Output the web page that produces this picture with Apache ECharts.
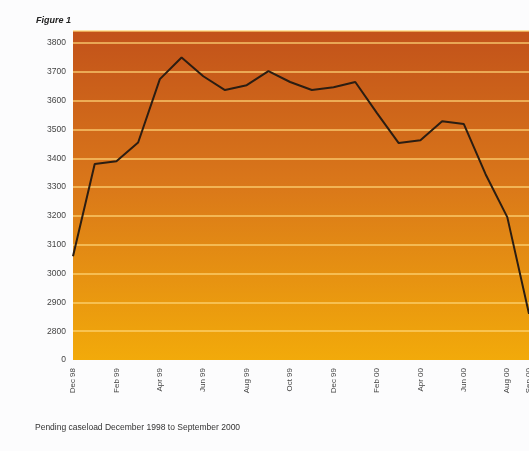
<!DOCTYPE html>
<html>
<head>
<meta charset="utf-8">
<script src="https://cdn.jsdelivr.net/npm/echarts@6/dist/echarts.min.js"></script>
<style>
  html, body { margin: 0; padding: 0; background: #fcfcfd; }
  #caseload-chart { width: 529px; height: 451px; }
</style>
</head>
<body>
<div id="caseload-chart"></div>
<script>
// months, Dec 98 to Sep 00
var months = ['Dec 98', 'Jan 99', 'Feb 99', 'Mar 99', 'Apr 99', 'May 99', 'Jun 99', 'Jul 99',
    'Aug 99', 'Sep 99', 'Oct 99', 'Nov 99', 'Dec 99', 'Jan 00', 'Feb 00', 'Mar 00',
    'Apr 00', 'May 00', 'Jun 00', 'Jul 00', 'Aug 00', 'Sep 00'];
// pending caseload
var pending = [3060, 3380, 3390, 3455, 3675, 3750, 3685, 3637, 3654, 3703, 3665,
    3637, 3647, 3665, 3557, 3453, 3463, 3529, 3519, 3345, 3196, 2860];
// bottom of the broken axis is labelled 0
var axisBreakValue = 2700;

var gridColors = ['rgba(0,0,0,0)'];
for (var i = 0; i < 12; i++) {
    gridColors.push('rgba(255,214,120,0.85)');
}

var caseloadDiv = document.getElementById('caseload-chart');
var caseloadChart = echarts.init(caseloadDiv);

var caseloadOption = {
    animation: false,
    title: [{
        text: 'Figure 1',
        left: 31,
        top: 11,
        textStyle: { fontSize: 9, fontWeight: 'bold', fontStyle: 'italic', color: '#222', fontFamily: 'Liberation Sans' }
    }, {
        text: 'Pending caseload December 1998 to September 2000',
        left: 30,
        top: 418,
        textStyle: { fontSize: 8.5, fontWeight: 'normal', color: '#333', fontFamily: 'Liberation Sans' }
    }],
    grid: {
        left: 73,
        right: 0,
        top: 31,
        bottom: 91,
        outerBoundsMode: 'none',
        show: true,
        borderWidth: 0,
        backgroundColor: new echarts.graphic.LinearGradient(0, 0, 0, 1, [
            { offset: 0, color: '#c2521a' },
            { offset: 0.45, color: '#d9761a' },
            { offset: 1, color: '#f2aa0a' }
        ])
    },
    xAxis: {
        type: 'category',
        boundaryGap: false,
        data: months,
        axisLine: { show: false },
        axisTick: { show: false },
        axisLabel: {
            rotate: 90,
            margin: 8,
            fontSize: 8,
            color: '#444',
            fontFamily: 'Liberation Sans',
            interval: function(idx) {
                return idx % 2 === 0 || idx === months.length - 1;
            }
        },
        splitLine: { show: false }
    },
    yAxis: {
        type: 'value',
        min: axisBreakValue,
        max: 3842,
        interval: 100,
        axisLine: { show: false },
        axisTick: { show: false },
        axisLabel: {
            showMaxLabel: false,
            margin: 7,
            fontSize: 8.5,
            color: '#444',
            fontFamily: 'Liberation Sans',
            formatter: function(v) {
                if (v === axisBreakValue) return '0';
                if (v % 100 !== 0) return '';
                return v;
            }
        },
        splitLine: {
            show: true,
            lineStyle: { color: gridColors, width: 1.5 }
        }
    },
    series: [{
        name: 'Pending caseload',
        type: 'line',
        data: pending,
        symbol: 'none',
        lineStyle: { color: '#2b1d12', width: 2 }
    }]
};

caseloadChart.setOption(caseloadOption);
</script>
</body>
</html>
